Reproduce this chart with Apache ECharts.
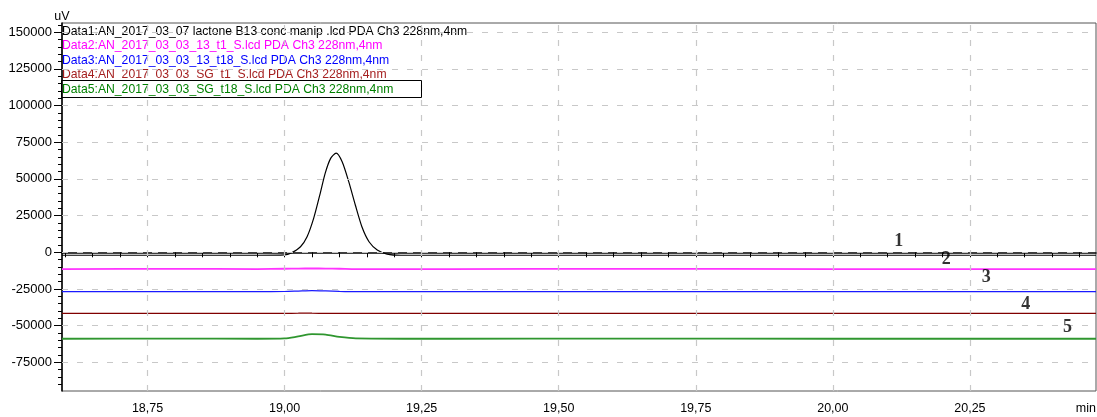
<!DOCTYPE html>
<html>
<head>
<meta charset="utf-8">
<title>PDA Ch3 228nm</title>
<script src="https://cdn.jsdelivr.net/npm/echarts@6/dist/echarts.min.js"></script>
<style>
  html, body { margin: 0; padding: 0; background: #fff; }
  #chart { width: 1097px; height: 417px; }
</style>
</head>
<body>
<div id="chart"></div>
<script>
// 数据：保留时间(min) / 信号(uV)
var seriesNames = [
    'Data1:AN_2017_03_07 lactone B13 conc manip .lcd PDA Ch3 228nm,4nm',
    'Data2:AN_2017_03_03_13_t1_S.lcd PDA Ch3 228nm,4nm',
    'Data3:AN_2017_03_03_13_t18_S.lcd PDA Ch3 228nm,4nm',
    'Data4:AN_2017_03_03_SG_t1_S.lcd PDA Ch3 228nm,4nm',
    'Data5:AN_2017_03_03_SG_t18_S.lcd PDA Ch3 228nm,4nm'
];
var lineColors = ['#000000', '#ff33ff', '#1a1aff', '#800000', '#2f962f'];
var legendColors = ['#000000', '#ff00ff', '#0000ff', '#a52020', '#008000'];

// Data1 (黑线，带峰)
var times1 = [18.594, 18.8, 18.95, 19.0, 19.011, 19.029, 19.041, 19.053, 19.065, 19.074, 19.084, 19.094,
    19.105, 19.117, 19.129, 19.141, 19.154, 19.169, 19.187, 19.212, 19.4, 19.8, 20.2, 20.48];
var values1 = [-2000, -2000, -2000, -1800, -700, 3800, 10600, 23100, 40200, 53800, 64000, 67600,
    61700, 48100, 32200, 17400, 7200, 1600, -1200, -2000, -2000, -2000, -2000, -2000];

// Data2~Data5 共用时间点
var flatTimes = [18.594, 18.8, 18.95, 19.0, 19.025, 19.05, 19.075, 19.1, 19.13, 19.3, 19.6, 20.0, 20.48];
var values2 = [-11400, -11300, -11400, -11200, -11100, -11000, -11100, -11200, -11400, -11400, -11300, -11400, -11400];
var values3 = [-26800, -26800, -26800, -26700, -26400, -26100, -26300, -26600, -26800, -26800, -26800, -26800, -26800];
var values4 = [-41600, -41600, -41600, -41600, -41500, -41500, -41600, -41600, -41600, -41600, -41600, -41600, -41600];
var values5 = [-58900, -58800, -58900, -58700, -57300, -55800, -56100, -57600, -58600, -58900, -58800, -58900, -58900];

// 曲线编号 1~5
var tagTimes = [20.120, 20.207, 20.280, 20.352, 20.428];
var tagValues = [7700, -4770, -17030, -35220, -51100];
var tagTexts = ['1', '2', '3', '4', '5'];

// 坐标轴刻度
var xLabelValues = [18.75, 19.0, 19.25, 19.5, 19.75, 20.0, 20.25];
var yLabelValues = [-75000, -50000, -25000, 0, 25000, 50000, 75000, 100000, 125000, 150000];
var xMin = 18.594, xMax = 20.48;
var yMin = -94480, yMax = 156200;

var xTickValues = [];
for (var t = 18.6; t < xMax; t += 0.05) { xTickValues.push(+t.toFixed(2)); }
var yMinorValues = [];
for (var v = -90000; v <= 155000; v += 5000) { yMinorValues.push(v); }

function pairs(xs, ys) {
    return xs.map(function (x, i) { return [x, ys[i]]; });
}

var font = 'Liberation Sans';
var chart = echarts.init(document.getElementById('chart'));

var lineSeries = [
    pairs(times1, values1),
    pairs(flatTimes, values2),
    pairs(flatTimes, values3),
    pairs(flatTimes, values4),
    pairs(flatTimes, values5)
].map(function (d, i) {
    return {
        name: seriesNames[i],
        type: 'line',
        data: d,
        showSymbol: false,
        smooth: 0.25,
        z: 3,
        lineStyle: { color: lineColors[i], width: (i === 1 || i === 4) ? 1.8 : 1.2 },
        itemStyle: { color: lineColors[i] }
    };
});

var option = {
    animation: false,
    grid: {
        left: 62, right: 1, top: 23, bottom: 26,
        show: true, borderColor: '#555', borderWidth: 1,
        containLabel: false, outerBoundsMode: 'none'
    },
    legend: {
        orient: 'vertical', left: 57, top: 24.5, padding: 0,
        icon: 'none', itemWidth: 0, itemHeight: 14, itemGap: 1.5,
        selectedMode: false,
        textStyle: { fontFamily: font, fontSize: 12.2 },
        data: seriesNames.map(function (n, i) {
            return { name: n, textStyle: { color: legendColors[i] } };
        })
    },
    xAxis: {
        type: 'value', min: xMin, max: xMax,
        axisLine: { lineStyle: { color: '#000', width: 1.5 } },
        axisTick: { customValues: xTickValues, length: 5, lineStyle: { color: '#000' } },
        axisLabel: {
            customValues: xLabelValues, margin: 11, color: '#000', fontFamily: font, fontSize: 12.5,
            formatter: function (val) { return val.toFixed(2).replace('.', ','); }
        },
        splitLine: { show: false }
    },
    yAxis: [{
        type: 'value', min: yMin, max: yMax, position: 'left',
        name: 'uV', nameLocation: 'end', nameGap: 0,
        nameTextStyle: { color: '#000', fontFamily: font, fontSize: 12.5 },
        axisLine: { show: true, lineStyle: { color: '#000', width: 1.5 } },
        axisTick: { show: true, customValues: yLabelValues, length: 8, lineStyle: { color: '#000' } },
        axisLabel: {
            customValues: yLabelValues, margin: 10, color: '#000', fontFamily: font, fontSize: 13,
            formatter: function (val) { return String(val); }
        },
        splitLine: { show: false }
    }, {
        type: 'value', min: yMin, max: yMax, position: 'left',
        axisLine: { show: false },
        axisTick: { show: true, customValues: yMinorValues, length: 4, lineStyle: { color: '#000' } },
        axisLabel: { show: false },
        splitLine: { show: false }
    }],
    graphic: [{
        type: 'rect', z: 100,
        shape: { x: 61.5, y: 80.5, width: 360, height: 17 },
        style: { fill: 'none', stroke: '#000', lineWidth: 1 }
    }, {
        type: 'text', right: 1, top: 402, z: 100,
        style: { text: 'min', fill: '#000', font: '12.5px "Liberation Sans"' }
    }],
    series: [{
        // 虚线网格
        name: 'grid', type: 'line', data: [], z: 1,
        markLine: {
            silent: true, symbol: ['none', 'none'], animation: false,
            label: { show: false },
            lineStyle: { color: '#c8c8c8', type: [6, 9], width: 1.2 },
            data: xLabelValues.map(function (x) { return { xAxis: x }; })
                .concat(yLabelValues.map(function (y) { return { yAxis: y }; }))
        }
    }].concat(lineSeries).concat([{
        name: 'tags', type: 'scatter', z: 5,
        symbolSize: 1, itemStyle: { color: 'rgba(0,0,0,0)' },
        data: tagTimes.map(function (x, i) { return [x, tagValues[i], tagTexts[i]]; }),
        label: {
            show: true, position: 'inside',
            formatter: function (p) { return p.value[2]; },
            fontFamily: 'Liberation Serif', fontWeight: 'bold', fontSize: 18, color: '#000'
        }
    }])
};
chart.setOption(option);
</script>
</body>
</html>
